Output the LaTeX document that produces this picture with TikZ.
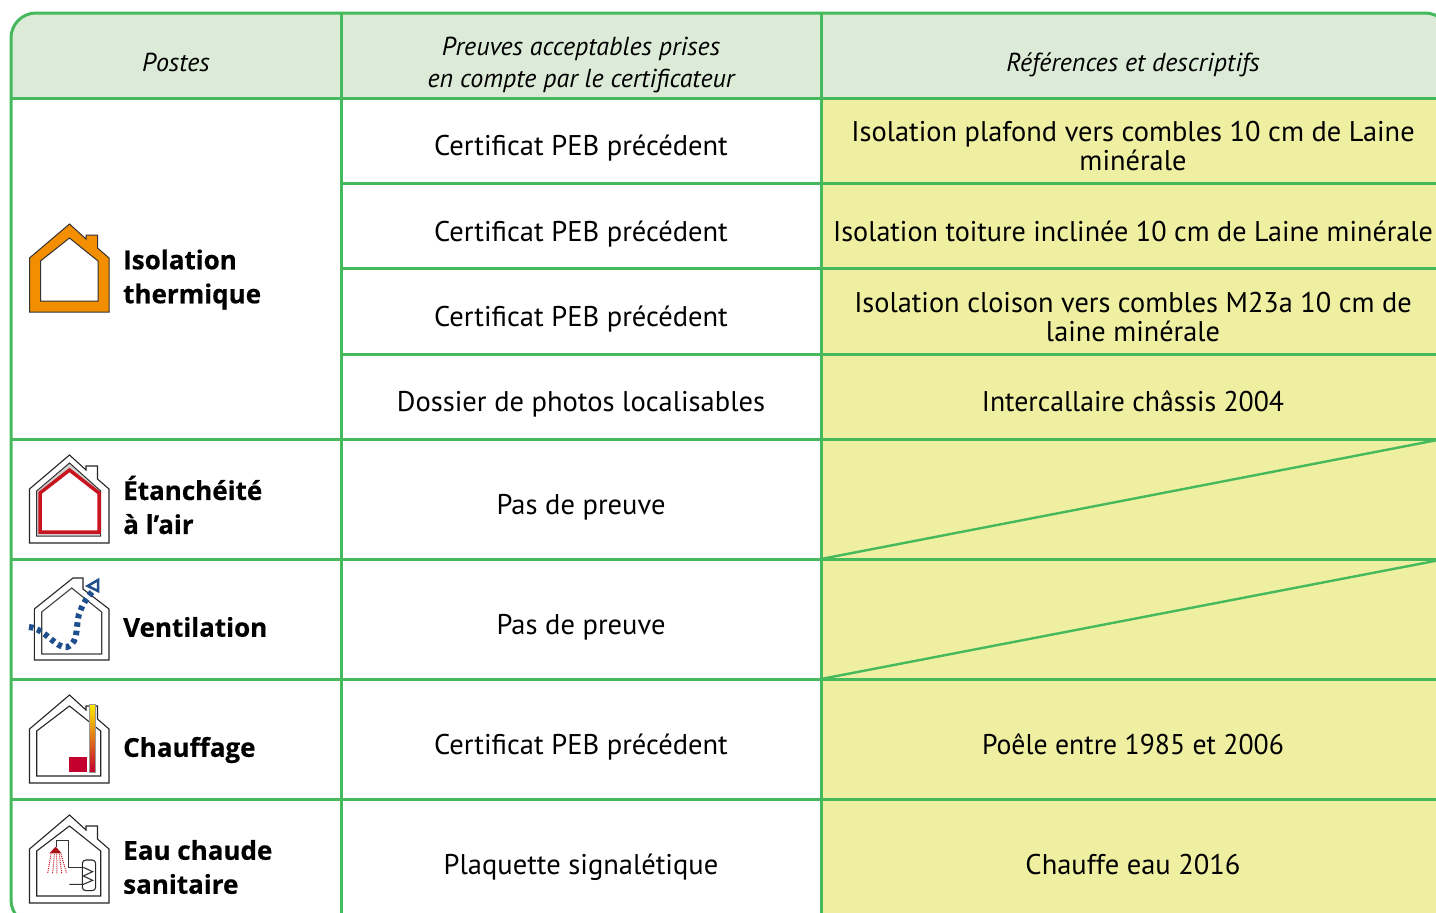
\documentclass[tikz,border=0pt]{standalone}
\usepackage{fontspec}
\setmainfont{PT Sans}
\newfontfamily\postfont[BoldFeatures={FakeBold=0.5}]{Open Sans}
\definecolor{gridgreen}{HTML}{45B95C}
\definecolor{headfill}{HTML}{DCEBD8}
\definecolor{cellyellow}{HTML}{EFEFA2}
\definecolor{houseorange}{HTML}{F28E00}
\definecolor{housered}{HTML}{C8141E}
\definecolor{boxred}{HTML}{C4002F}
\definecolor{flowblue}{HTML}{1F4E8C}
\tikzset{
  grid line/.style={draw=gridgreen,line width=3pt},
  head/.style={font=\fontsize{26}{32}\selectfont\itshape,align=center,text=black,inner sep=0pt},
  body/.style={font=\fontsize{28.5}{30}\selectfont,align=center,text=black,inner sep=0pt,text height=20pt,text depth=6pt},
  body two/.style={font=\fontsize{28.5}{29.5}\selectfont,align=center,text=black,inner sep=0pt},
  post/.style={font=\postfont\fontsize{26}{34}\selectfont\bfseries,align=left,anchor=west,text=black,inner sep=0pt},
  house line/.style={draw=black!85,line width=1.1pt,line join=miter},
  house outer/.pic={
    \path[pic actions] (29.5,88) -- (109,88) -- (109,34) -- (97.5,24) -- (97.5,11) -- (86,11) -- (86,15) -- (69.5,0) -- (29.5,34) -- cycle;
  },
}
\begin{document}
\begin{tikzpicture}[x=1pt,y=-1pt]
\useasboundingbox (0,0) rectangle (1436,913);
\clip (0,0) rectangle (1436,913);
% cell fills
\fill[white] (0,0) rectangle (1436,913);
\fill[headfill,rounded corners=25pt] (11,120) -- (11,13) -- (1450,13) -- (1450,120) -- cycle;
\fill[white] (0,98) rectangle (821,925);
\fill[cellyellow] (821,98) rectangle (1440,925);
% table lines
\draw[grid line,rounded corners=25pt] (60,925) -- (11,925) -- (11,13) -- (1450,13) -- (1450,925);
\foreach \yy in {98,439,559,679,799} \draw[grid line] (11,\yy) -- (1440,\yy);
\foreach \yy in {183,268,354} \draw[grid line] (341,\yy) -- (1440,\yy);
\foreach \xx in {341,821} \draw[grid line] (\xx,13) -- (\xx,925);
\draw[grid line,line width=2.4pt] (821,559) -- (1440,439.5);
\draw[grid line,line width=2.4pt] (821,679) -- (1440,560);
% headers
\node[head] (h1) at (176,62) {Postes};
\node[head] (h2) at (581,64.5) {Preuves acceptables prises\\en compte par le certificateur};
\node[head] (h3) at (1133,64.5) {Références et descriptifs};
% middle column
\node[body] (p1) at (581,148) {Certificat PEB précédent};
\node[body] (p2) at (581,234) {Certificat PEB précédent};
\node[body] (p3) at (581,319) {Certificat PEB précédent};
\node[body] (p4) at (581,404) {Dossier de photos localisables};
\node[body] (p5) at (581,507) {Pas de preuve};
\node[body] (p6) at (581,627) {Pas de preuve};
\node[body] (p7) at (581,747) {Certificat PEB précédent};
\node[body] (p8) at (581,867) {Plaquette signalétique};
% right column
\node[body two,xscale=.996] (r1) at (1133,146) {Isolation plafond vers combles 10 cm de Laine\\minérale};
\node[body,xscale=.987] (r2) at (1133,234) {Isolation toiture inclinée 10 cm de Laine minérale};
\node[body two,xscale=.993] (r3) at (1133,317) {Isolation cloison vers combles M23a 10 cm de\\laine minérale};
\node[body,xscale=.973] (r4) at (1133,404) {Intercallaire châssis 2004};
\node[body,xscale=.973] (r7) at (1133,747) {Poêle entre 1985 et 2006};
\node[body] (r8) at (1133,867) {Chauffe eau 2016};
% left labels
\node[post] (l1) at (123,279.5) {Isolation\\thermique};
\node[post] (l2) at (123,505) {Étanchéité\\à l’air};
\node[post] (l3) at (123,627) {Ventilation};
\node[post] (l4) at (123,750) {Chauffage};
\node[post] (l5) at (123,867) {Eau chaude\\sanitaire};
% icon 1: insulation
\begin{scope}[yshift=-224pt]
\fill[houseorange,draw=black!80,line width=1pt,even odd rule]
 (29.5,88) -- (109,88) -- (109,34) -- (97.5,24) -- (97.5,11) -- (86,11) -- (86,15) -- (69.5,0) -- (29.5,34) -- cycle
 (40.5,77) -- (98,77) -- (98,37) -- (69.5,14) -- (40.5,37) -- cycle;
\end{scope}
% icon 2: airtightness
\begin{scope}[yshift=-455pt]
\pic[house line] {house outer};
\fill[black!18] (36.7,81) -- (100.7,81) -- (100.7,36) -- (69.5,8) -- (36.7,36) -- cycle;
\draw[black!80,line width=1pt] (36.7,81) -- (100.7,81) -- (100.7,36) -- (69.5,8) -- (36.7,36) -- cycle;
\draw[housered,fill=white,line width=3.5pt] (40,77) -- (99,77) -- (99,38) -- (69.5,15) -- (40,38) -- cycle;
\end{scope}
% icon 3: ventilation
\draw[house line] (34.3,660) -- (109,660) -- (109,609) -- (83,589) -- (83,578) -- (73,578) -- (71.7,579) -- (34.3,609) -- cycle;
\draw[black!75,line width=1.1pt] (41.7,654) -- (101.7,654) -- (101.7,612) -- (71.7,588) -- (41.7,612) -- cycle;
\draw[flowblue,line width=6pt,dash pattern=on 4.5pt off 4pt]
  (29,627) .. controls (44,628) and (58,650) .. (67,647) .. controls (81,642) and (74,622) .. (81,609) .. controls (84,602) and (87,598) .. (92,592);
\draw[flowblue,line width=2.5pt,line join=miter] (87.7,586) -- (98,580) -- (98,591) -- cycle;
% icon 4: heating
\begin{scope}[yshift=-695pt]
\pic[house line] {house outer};
\draw[house line] (36.7,81) -- (100.7,81) -- (100.7,36) -- (69.5,11) -- (36.7,36) -- cycle;
\shade[top color=yellow!85!orange,middle color=orange,bottom color=boxred,draw=black!40,line width=.4pt] (89.3,9) rectangle (95,77);
\fill[boxred] (69,62) rectangle (87,77);
\end{scope}
% icon 5: hot water
\begin{scope}[yshift=-815pt]
\pic[house line] {house outer};
\draw[house line] (36.7,81) -- (100.7,81) -- (100.7,36) -- (69.5,11) -- (36.7,36) -- cycle;
\end{scope}
\begin{scope}[shift={(10,805)},x=.3333pt,y=-.3333pt]
\draw[black!80,line width=1.1pt] (140,125) -- (140,107) -- (175,107) -- (175,187) -- (217,187);
\draw[black!80,line width=1.1pt] (178,238) -- (220,238) -- (248,226) -- (220,213) -- (248,200) -- (220,187);
\draw[black!85,line width=1.1pt,rounded corners=3.5pt] (217,165) rectangle (257,257);
\fill[housered!85!black] (118,145) -- (155,145) -- (137,125) -- cycle;
\foreach \xa/\xb in {123/113,133/128,140/141,148/155,153/170}
  \draw[housered,line width=1pt,densely dotted] (\xa,148) -- (\xb,205);
\end{scope}
\end{tikzpicture}
\end{document}
